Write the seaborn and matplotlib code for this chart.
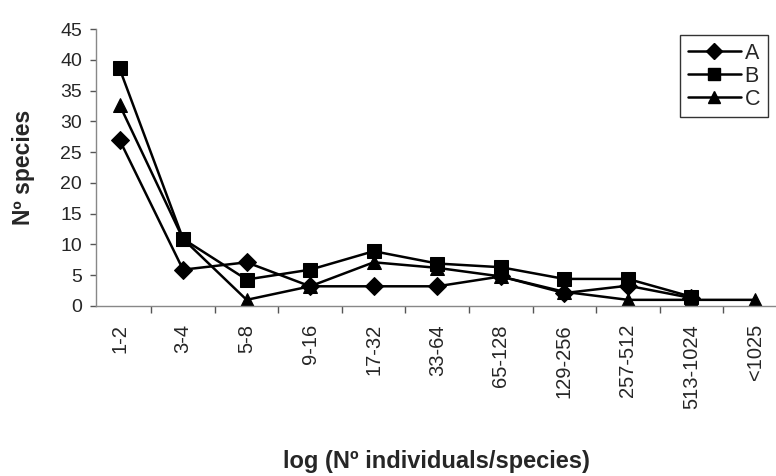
import numpy as np
import pandas as pd
import matplotlib
matplotlib.use("Agg")
import matplotlib.pyplot as plt
import seaborn as sns

classes = ["1-2", "3-4", "5-8", "9-16", "17-32", "33-64", "65-128",
           "129-256", "257-512", "513-1024", "<1025"]
series_a = [27.0, 5.9, 7.1, 3.2, 3.2, 3.2, 4.8, 2.1, 3.3, 1.3]
series_b = [38.6, 10.9, 4.3, 5.9, 8.9, 6.9, 6.3, 4.4, 4.4, 1.5]
series_c = [32.7, 10.9, 1.0, 3.2, 7.1, 6.2, 4.8, 2.3, 1.0, 1.0, 1.0]

rows = []
for name, vals in [("A", series_a), ("B", series_b), ("C", series_c)]:
    for i, v in enumerate(vals):
        rows.append({"pos": i, "n": v, "series": name})
df = pd.DataFrame(rows)

sns.set_theme(style="white")
plt.rcParams["font.family"] = ["Liberation Sans", "DejaVu Sans"]

fig = plt.figure(figsize=(7.76, 4.76), dpi=100)
ax = fig.add_axes([96 / 776, 1 - 306 / 476, 680 / 776, 277 / 476])

sns.lineplot(data=df, x="pos", y="n", style="series", markers=["D", "s", "^"],
             dashes=False, color="black", linewidth=1.8, markersize=9.5,
             markeredgecolor="black", ax=ax, legend=False)

ax.set_ylim(0, 45)
ax.set_yticks(np.arange(0, 46, 5))
ax.set_xlim(-0.37, 10.33)
ax.set_xticks(range(len(classes)))
ax.set_xticklabels(classes, rotation=90)
ax.set_xticks(np.arange(0.5, len(classes) - 1, 1), minor=True)
ax.tick_params(axis="x", which="major", length=0, pad=13, labelsize=14.5)
ax.tick_params(axis="x", which="minor", length=5, width=1, color="#555555", bottom=True)
ax.tick_params(axis="y", length=4, width=1, color="#555555", labelsize=14, left=True, pad=6)

for s in ["top", "right"]:
    ax.spines[s].set_visible(False)
for s in ["left", "bottom"]:
    ax.spines[s].set_color("#888888")
    ax.spines[s].set_linewidth(1)

ax.set_xlabel("log (Nº individuals/species)", fontsize=17, fontweight="bold", labelpad=30)
ax.set_ylabel("Nº species", fontsize=16.5, fontweight="bold", labelpad=18)

handles = [
    plt.Line2D([], [], color="black", marker="D", markersize=8, linewidth=1.8),
    plt.Line2D([], [], color="black", marker="s", markersize=8, linewidth=1.8),
    plt.Line2D([], [], color="black", marker="^", markersize=8, linewidth=1.8),
]
leg = fig.legend(handles, ["A", "B", "C"], loc="upper left",
                 bbox_to_anchor=(680 / 776, 1 - 35 / 476), frameon=True,
                 fancybox=False, fontsize=15.5, handlelength=2.5,
                 handletextpad=0.15, labelspacing=0.1, borderpad=0.35,
                 borderaxespad=0)
leg.get_frame().set_edgecolor("black")
leg.get_frame().set_linewidth(1)

fig.savefig("out.png", dpi=100)
